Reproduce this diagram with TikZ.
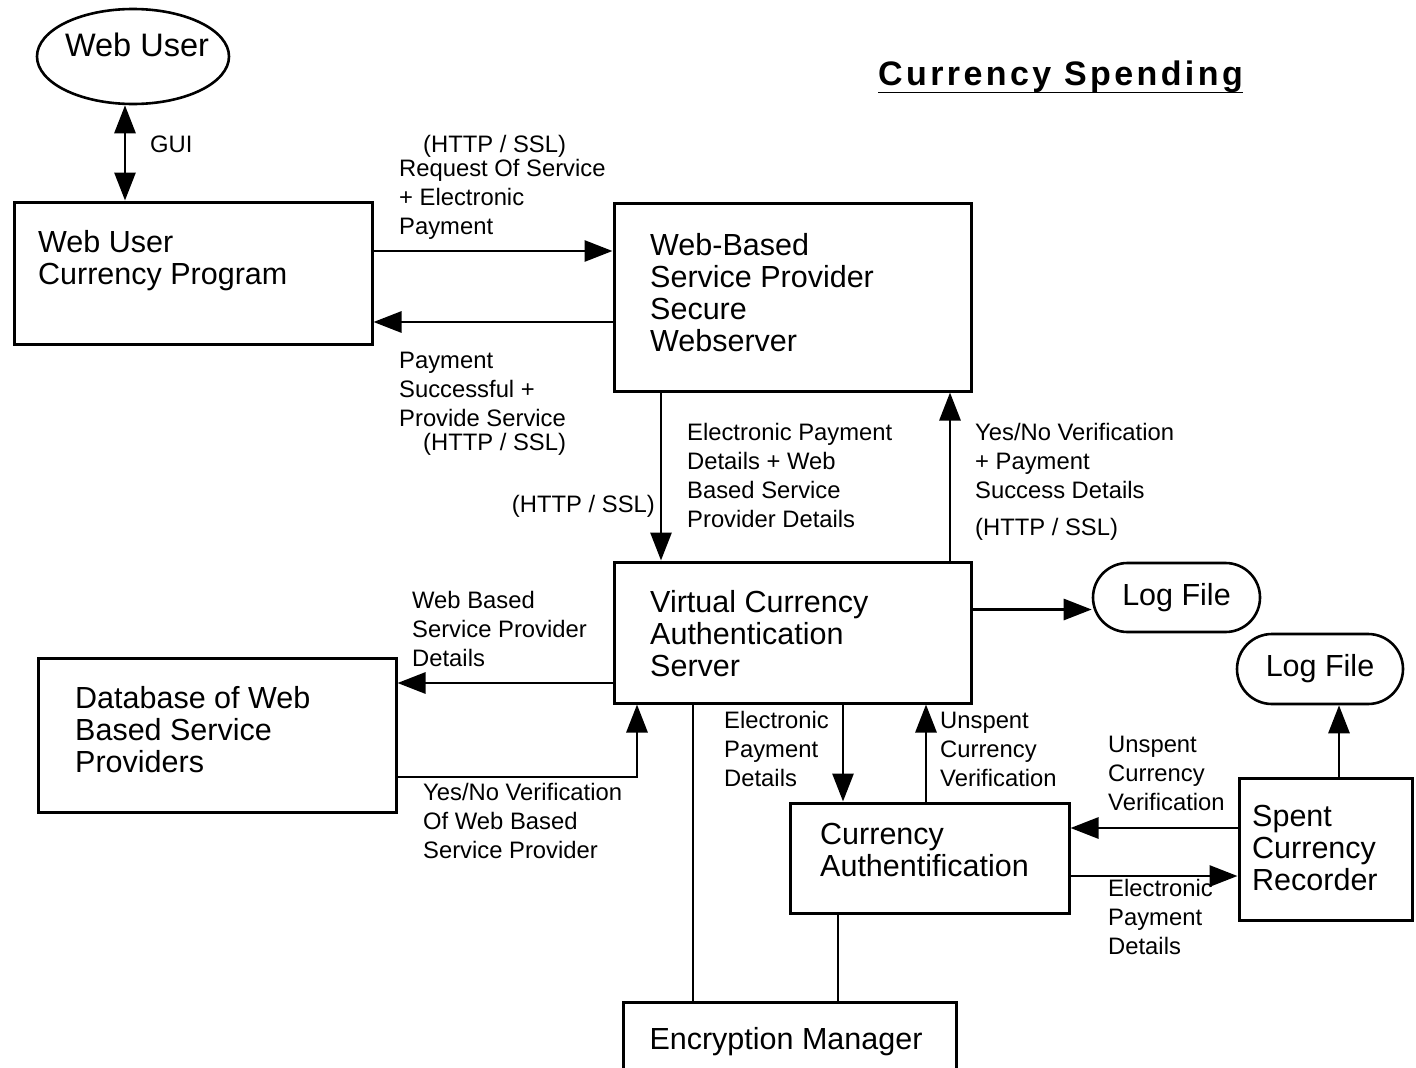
\documentclass[tikz,border=0pt]{standalone}
\usepackage{fontspec}
\setmainfont{Liberation Sans}
\newfontfamily\titlefam[LetterSpace=10]{Liberation Sans}
\usetikzlibrary{shapes.geometric,shapes.misc,arrows.meta}
\begin{document}
\begin{tikzpicture}[x=1pt,y=-1pt,
  box/.style={draw,line width=3pt,rectangle,inner sep=0pt},
  oval/.style={draw,line width=2.6pt,inner sep=0pt},
  btxt/.style={font=\fontsize{30.5}{32}\selectfont,inner sep=0pt,align=left,anchor=base west},
  lbl/.style={font=\fontsize{23.8}{29}\selectfont,inner sep=0pt,align=left,anchor=base west},
  conn/.style={line width=2.9pt},
  arr/.style={conn,-{Triangle[length=28pt,width=21pt]}},
  darr/.style={conn,{Triangle[length=28pt,width=21pt]}-{Triangle[length=28pt,width=21pt]}}
]
\useasboundingbox (0,0) rectangle (1416,1068);
\clip (0,0) rectangle (1416,1068);

% title (anchor at baseline of the single line)
\node (title) [anchor=base west,inner sep=0pt,font=\titlefam\bfseries\fontsize{34}{36}\selectfont] at (878,85) {Currency Spending};
\draw[line width=1.6pt] (title.base west) ++(0,-7.5pt) coordinate (ul1) -- (ul1 -| title.base east);

% web user ellipse
\node (wu) [oval,ellipse,minimum width=192pt,minimum height=95pt] at (133,56.5) {};
\node (wut) [inner sep=0pt,font=\fontsize{32.5}{34}\selectfont] at (137,45) {Web User};

% boxes (text anchors are at the baseline of the LAST line)
\node (b1) [box,minimum width=358pt,minimum height=142pt] at (193,273) {};
\node (b1t) [btxt] at (38,284) {Web User\\Currency Program};
\node (b2) [box,minimum width=357pt,minimum height=188pt] at (792.5,297) {};
\node (b2t) [btxt] at (650,351) {Web-Based\\Service Provider\\Secure\\Webserver};
\node (b3) [box,minimum width=357pt,minimum height=141pt] at (792.5,632.5) {};
\node (b3t) [btxt] at (650,676) {Virtual Currency\\Authentication\\Server};
\node (db) [box,minimum width=358pt,minimum height=154pt] at (217,735) {};
\node (dbt) [btxt] at (75,772) {Database of Web\\Based Service\\Providers};
\node (ca) [box,minimum width=279pt,minimum height=110pt] at (929.5,858) {};
\node (cat) [btxt] at (820,876) {Currency\\Authentification};
\node (sp) [box,minimum width=173pt,minimum height=142pt] at (1325.5,849) {};
\node (spt) [btxt] at (1252,890) {Spent\\Currency\\Recorder};
\node (en) [box,minimum width=333pt,minimum height=100pt] at (789.5,1052) {};
\node (ent) [btxt,anchor=base] at (786,1049) {Encryption Manager};

% log files
\node (log1) [oval,rounded rectangle,minimum width=167pt,minimum height=69pt,font=\fontsize{30.5}{32}\selectfont] at (1176.5,597.5) {Log File};
\node (log2) [oval,rounded rectangle,minimum width=166pt,minimum height=70pt,font=\fontsize{30.5}{32}\selectfont] at (1320,669) {Log File};

% connectors
\coordinate (gx) at (125,0);
\draw[darr] (gx |- wu.south) -- (gx |- b1.north);
\node (gui) [lbl] at (150,152) {GUI};

\draw[arr] ([yshift=22pt]b1.east) -- ([yshift=46pt]b2.west);
\node (h1) [lbl] at (423,152) {(HTTP / SSL)};
\node (l1) [lbl] at (399,234) {Request Of Service\\+ Electronic\\Payment};

\draw[arr] ([yshift=-25pt]b2.west) -- ([yshift=-49pt]b1.east);
\node (l2) [lbl] at (399,426) {Payment\\Successful +\\Provide Service};
\node (h2) [lbl] at (423,450) {(HTTP / SSL)};

\draw[arr] ([xshift=-131.5pt]b2.south) -- ([xshift=-131.5pt]b3.north);
\node (h3) [lbl,anchor=base east] at (655,512) {(HTTP / SSL)};
\node (l3) [lbl] at (687,527) {Electronic Payment\\Details + Web\\Based Service\\Provider Details};

\draw[arr] ([xshift=157.5pt]b3.north) -- ([xshift=157.5pt]b2.south);
\node (l4) [lbl] at (975,498) {Yes/No Verification\\+ Payment\\Success Details};
\node (h4) [lbl] at (975,535) {(HTTP / SSL)};

\draw[arr] ([yshift=23pt]b3.east) -- ([yshift=-12pt]log1.west);

\draw[arr] ([yshift=-50.5pt]b3.west) -- ([yshift=52pt]db.east);
\node (l5) [lbl] at (412,666) {Web Based\\Service Provider\\Details};

\draw[arr] ([yshift=-42pt]db.east) -| ([xshift=-155.5pt]b3.south);
\node (l6) [lbl] at (423,858) {Yes/No Verification\\Of Web Based\\Service Provider};

\draw[conn] ([xshift=-99.5pt]b3.south) -- ([xshift=-96.5pt]en.north);

\draw[arr] ([xshift=50.5pt]b3.south) -- ([xshift=-86.5pt]ca.north);
\node (l7) [lbl] at (724,786) {Electronic\\Payment\\Details};

\draw[arr] ([xshift=-3.5pt]ca.north) -- ([xshift=133.5pt]b3.south);
\node (l8) [lbl] at (940,786) {Unspent\\Currency\\Verification};

\draw[conn] ([xshift=-91.5pt]ca.south) -- ([xshift=48.5pt]en.north);

\draw[arr] ([yshift=21pt]sp.west) -- ([yshift=30pt]ca.east);
\node (l9) [lbl] at (1108,810) {Unspent\\Currency\\Verification};

\draw[arr] ([yshift=-18pt]ca.east) -- ([yshift=-27pt]sp.west);
\node (l10) [lbl] at (1108,954) {Electronic\\Payment\\Details};

\draw[arr] ([xshift=13.5pt]sp.north) -- ([xshift=19pt]log2.south);
\end{tikzpicture}
\end{document}
